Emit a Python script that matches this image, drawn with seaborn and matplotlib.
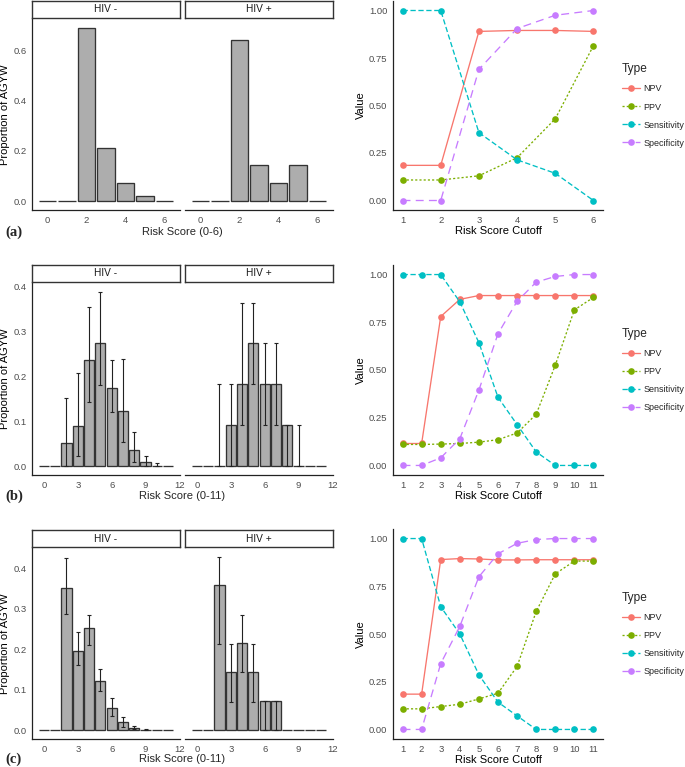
import numpy as np
import pandas as pd
import matplotlib
matplotlib.use("Agg")
import matplotlib.pyplot as plt
import seaborn as sns

nan = np.nan

# ---- histogram data (proportion of AGYW by risk score) ----
SCORES_A = [0, 1, 2, 3, 4, 5, 6]
A_NEG = [0, 0, 0.690, 0.213, 0.072, 0.023, 0]
A_POS = [0, 0, 0.643, 0.143, 0.071, 0.143, 0]

SCORES_BC = [0, 1, 2, 3, 4, 5, 6, 7, 8, 9, 10, 11]
B_NEG = [0, 0, 0.051, 0.089, 0.237, 0.274, 0.173, 0.123, 0.037, 0.010, 0.001, 0]
B_NEG_LO = [nan, nan, 0.0, 0.022, 0.143, 0.180, 0.120, 0.053, 0.009, 0.0, 0.0, nan]
B_NEG_HI = [nan, nan, 0.151, 0.208, 0.355, 0.387, 0.237, 0.238, 0.076, 0.022, 0.007, nan]
B_POS = [0, 0, 0, 0.091, 0.182, 0.273, 0.182, 0.182, 0.091, 0, 0, 0]
B_POS_LO = [nan, nan, 0.0, 0.0, 0.091, 0.182, 0.091, 0.091, 0.0, 0.0, nan, nan]
B_POS_HI = [nan, nan, 0.182, 0.182, 0.364, 0.364, 0.273, 0.273, 0.091, 0.091, nan, nan]

C_NEG = [0, 0, 0.352, 0.196, 0.252, 0.123, 0.055, 0.020, 0.006, 0.001, 0, 0]
C_NEG_LO = [nan, nan, 0.287, 0.161, 0.212, 0.096, 0.035, 0.008, 0.002, 0.0, nan, nan]
C_NEG_HI = [nan, nan, 0.426, 0.242, 0.285, 0.152, 0.080, 0.033, 0.010, 0.002, nan, nan]
C_POS = [0, 0, 0.358, 0.143, 0.215, 0.143, 0.072, 0.072, 0, 0, 0, 0]
C_POS_LO = [nan, nan, 0.213, 0.071, 0.143, 0.071, 0.0, 0.0, nan, nan, nan, nan]
C_POS_HI = [nan, nan, 0.429, 0.213, 0.286, 0.213, 0.072, 0.072, nan, nan, nan, nan]

# ---- cutoff performance data ----
TYPES = ["NPV", "PPV", "Sensitivity", "Specificity"]

CUT_A = [1, 2, 3, 4, 5, 6]
NPV_A = [0.185, 0.185, 0.890, 0.895, 0.895, 0.890]
PPV_A = [0.108, 0.108, 0.130, 0.225, 0.430, 0.815]
SENS_A = [1.0, 1.0, 0.357, 0.214, 0.143, 0.0]
SPEC_A = [0.0, 0.0, 0.690, 0.905, 0.975, 1.0]

CUT_BC = [1, 2, 3, 4, 5, 6, 7, 8, 9, 10, 11]
NPV_B = [0.115, 0.115, 0.780, 0.870, 0.890, 0.890, 0.890, 0.890, 0.890, 0.890, 0.890]
PPV_B = [0.110, 0.110, 0.112, 0.115, 0.122, 0.135, 0.170, 0.268, 0.525, 0.815, 0.880]
SENS_B = [1.0, 1.0, 1.0, 0.857, 0.643, 0.357, 0.214, 0.071, 0.0, 0.0, 0.0]
SPEC_B = [0.0, 0.0, 0.040, 0.140, 0.395, 0.690, 0.860, 0.960, 0.990, 1.0, 1.0]

NPV_C = [0.185, 0.185, 0.890, 0.895, 0.893, 0.888, 0.888, 0.889, 0.889, 0.889, 0.889]
PPV_C = [0.108, 0.108, 0.120, 0.132, 0.160, 0.190, 0.330, 0.618, 0.815, 0.882, 0.882]
SENS_C = [1.0, 1.0, 0.643, 0.500, 0.286, 0.143, 0.071, 0.0, 0.0, 0.0, 0.0]
SPEC_C = [0.0, 0.0, 0.345, 0.540, 0.800, 0.920, 0.975, 0.995, 1.0, 1.0, 1.0]

W, H = 685, 767
PALETTE = dict(zip(TYPES, ["#F8766D", "#7CAE00", "#00BFC4", "#C77CFF"]))
DASHES = {"NPV": "", "PPV": (1.6, 1.6), "Sensitivity": (4, 2), "Specificity": (6, 4)}
AXIS_COL = "#222222"
TICK_COL = "#4D4D4D"
TICK_SIZE = 6.8
LABEL_SIZE = 8.0


def box(x0, x1, y0, y1):
    """Pixel box -> figure fraction [left, bottom, width, height]."""
    return [x0 / W, 1 - y1 / H, (x1 - x0) / W, (y1 - y0) / H]


def style_axes(ax):
    for s in ["top", "right"]:
        ax.spines[s].set_visible(False)
    for s in ["left", "bottom"]:
        ax.spines[s].set_color(AXIS_COL)
        ax.spines[s].set_linewidth(0.9)
    ax.tick_params(colors="#333333", labelcolor=TICK_COL, labelsize=TICK_SIZE,
                   length=2.5, width=0.7, pad=1.5)
    ax.set_facecolor("white")


def hist_panel(ax, scores, props, lo, hi, xmax, ylim, yticks, ticks, show_y, title, fig, strip):
    df = pd.DataFrame({"score": scores, "prop": props})
    sns.barplot(data=df, x="score", y="prop", native_scale=True, width=0.9,
                color="#ADADAD", saturation=1, edgecolor="#333333",
                linewidth=0.95, errorbar=None, ax=ax)
    if lo is not None:
        lo_a, hi_a = np.array(lo), np.array(hi)
        ok = ~np.isnan(lo_a)
        sc = np.array(scores)[ok]
        ax.errorbar(sc, (lo_a[ok] + hi_a[ok]) / 2, yerr=(hi_a[ok] - lo_a[ok]) / 2,
                    fmt="none", ecolor="#222222", elinewidth=0.8, capsize=1.2,
                    capthick=0.8)
    ax.set_xlim(-0.45 - 0.05 * (xmax + 0.9), xmax + 0.45 + 0.05 * (xmax + 0.9))
    ax.set_ylim(*ylim)
    ax.set_xticks(ticks)
    ax.set_yticks(yticks)
    ax.set_yticklabels([f"{v:.1f}" for v in yticks])
    ax.set_xlabel("")
    ax.set_ylabel("")
    style_axes(ax)
    if show_y:
        ax.set_ylabel("Proportion of AGYW", fontsize=LABEL_SIZE, labelpad=2)
    else:
        ax.spines["left"].set_visible(False)
        ax.tick_params(axis="y", left=False, labelleft=False)
    # facet strip
    sax = fig.add_axes(strip)
    sax.set_xticks([])
    sax.set_yticks([])
    for s in sax.spines.values():
        s.set_color("#333333")
        s.set_linewidth(1.0)
    sax.text(0.5, 0.5, title, ha="center", va="center", fontsize=7.3, color="#1A1A1A")


def line_panel(ax, cuts, npv, ppv, sens, spec):
    df = pd.concat([
        pd.DataFrame({"Cutoff": cuts, "Value": vals, "Type": t})
        for t, vals in zip(TYPES, [npv, ppv, sens, spec])
    ])
    sns.lineplot(data=df, x="Cutoff", y="Value", hue="Type", style="Type",
                 palette=PALETTE, dashes=DASHES, markers=["o"] * 4,
                 markersize=4.8, markeredgewidth=0, linewidth=0.95, ax=ax)
    ax.set_xlim(cuts[0] - 0.05 * (cuts[-1] - cuts[0]), cuts[-1] + 0.05 * (cuts[-1] - cuts[0]))
    ax.set_ylim(-0.05, 1.05)
    ax.set_xticks(cuts)
    ax.set_yticks([0, 0.25, 0.5, 0.75, 1.0])
    ax.set_yticklabels(["0.00", "0.25", "0.50", "0.75", "1.00"])
    ax.set_xlabel("Risk Score Cutoff", fontsize=LABEL_SIZE, labelpad=1)
    ax.set_ylabel("Value", fontsize=LABEL_SIZE, labelpad=2)
    style_axes(ax)
    sns.move_legend(ax, "center left", bbox_to_anchor=(1.05, 0.5), frameon=False,
                    title="Type", fontsize=6.5, title_fontsize=8.6,
                    handlelength=2.0, labelspacing=1.0, handletextpad=0.4,
                    alignment="left")


def main():
    sns.set_theme(style="white")
    plt.rcParams["font.family"] = ["Liberation Sans", "DejaVu Sans"]
    plt.rcParams["axes.labelcolor"] = "#000000"

    fig = plt.figure(figsize=(W / 100, H / 100), dpi=100)
    fig.patch.set_facecolor("white")

    rows = [
        dict(strip=(1, 18), panel=(19, 210), line=(1, 210), label="(a)", xl="Risk Score (0-6)",
             scores=SCORES_A, neg=(A_NEG, None, None), pos=(A_POS, None, None),
             xmax=6, ylim=(-0.0345, 0.7245), yticks=[0, 0.2, 0.4, 0.6], ticks=[0, 2, 4, 6],
             lines=(CUT_A, NPV_A, PPV_A, SENS_A, SPEC_A), lab_y=232),
        dict(strip=(265, 282), panel=(283, 475), line=(265, 475), label="(b)", xl="Risk Score (0-11)",
             scores=SCORES_BC, neg=(B_NEG, B_NEG_LO, B_NEG_HI), pos=(B_POS, B_POS_LO, B_POS_HI),
             xmax=11, ylim=(-0.0194, 0.4074), yticks=[0, 0.1, 0.2, 0.3, 0.4], ticks=[0, 3, 6, 9, 12],
             lines=(CUT_BC, NPV_B, PPV_B, SENS_B, SPEC_B), lab_y=496),
        dict(strip=(530, 547), panel=(548, 739), line=(529, 739), label="(c)", xl="Risk Score (0-11)",
             scores=SCORES_BC, neg=(C_NEG, C_NEG_LO, C_NEG_HI), pos=(C_POS, C_POS_LO, C_POS_HI),
             xmax=11, ylim=(-0.0215, 0.4505), yticks=[0, 0.1, 0.2, 0.3, 0.4], ticks=[0, 3, 6, 9, 12],
             lines=(CUT_BC, NPV_C, PPV_C, SENS_C, SPEC_C), lab_y=759),
    ]

    for r in rows:
        p0, p1 = r["panel"]
        s0, s1 = r["strip"]
        for (x0, x1), key, title, show_y in [((32, 180), "neg", "HIV -", True),
                                             ((185, 333), "pos", "HIV +", False)]:
            ax = fig.add_axes(box(x0, x1, p0, p1))
            vals, lo, hi = r[key]
            hist_panel(ax, r["scores"], vals, lo, hi, r["xmax"], r["ylim"], r["yticks"],
                       r["ticks"], show_y, title, fig, box(x0, x1, s0, s1))
        fig.text(182 / W, 1 - r["lab_y"] / H, r["xl"], ha="center", va="center",
                 fontsize=LABEL_SIZE)
        fig.text(5 / W, 1 - r["lab_y"] / H, r["label"], ha="left", va="center", fontsize=10.5,
                 fontweight="bold", family=["Liberation Serif", "DejaVu Serif"])

        l0, l1 = r["line"]
        lax = fig.add_axes(box(393, 603, l0, l1))
        line_panel(lax, *r["lines"])

    fig.savefig("out.png", dpi=100, facecolor="white")
    plt.close(fig)


if __name__ == "__main__":
    main()
